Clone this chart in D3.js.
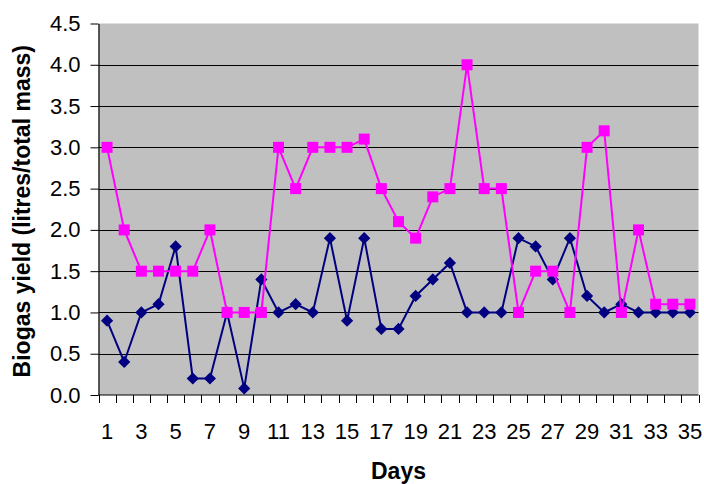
<!DOCTYPE html>
<html>
<head>
<meta charset="utf-8">
<script src="https://cdn.jsdelivr.net/npm/d3@7"></script>
<style>
  html, body { margin: 0; padding: 0; background: #ffffff; }
  svg { display: block; }
  text { font-family: "Liberation Sans", Arial, sans-serif; fill: #000; }
</style>
</head>
<body>
<svg id="chart" width="704" height="484"></svg>
<script>
const days = d3.range(1, 36);
const seriesNavy = [0.9, 0.4, 1.0, 1.1, 1.8, 0.2, 0.2, 1.0, 0.08, 1.4,
                    1.0, 1.1, 1.0, 1.9, 0.9, 1.9, 0.8, 0.8, 1.2, 1.4,
                    1.6, 1.0, 1.0, 1.0, 1.9, 1.8, 1.4, 1.9, 1.2, 1.0,
                    1.1, 1.0, 1.0, 1.0, 1.0];
const seriesPink = [3.0, 2.0, 1.5, 1.5, 1.5, 1.5, 2.0, 1.0, 1.0, 1.0,
                    3.0, 2.5, 3.0, 3.0, 3.0, 3.1, 2.5, 2.1, 1.9, 2.4,
                    2.5, 4.0, 2.5, 2.5, 1.0, 1.5, 1.5, 1.0, 3.0, 3.2,
                    1.0, 2.0, 1.1, 1.1, 1.1];
const yTicks = [0, 0.5, 1.0, 1.5, 2.0, 2.5, 3.0, 3.5, 4.0, 4.5];
const xTickLabels = days.filter(d => d % 2 === 1);
const yTitle = "Biogas yield (litres/total mass)";
const xTitle = "Days";

const svg = d3.select("#chart");
const pLeft = 98.5, pRight = 698.5, pTop = 23.5, pBottom = 395;

const x = d3.scaleBand().domain(days).range([pLeft, pRight]).padding(0);
const y = d3.scaleLinear().domain([0, 4.5]).range([pBottom, pTop]);
const cx = d => x(d) + x.bandwidth() / 2;

// plot background
svg.append("rect")
  .attr("x", pLeft).attr("y", pTop)
  .attr("width", pRight - pLeft).attr("height", pBottom - pTop)
  .attr("fill", "#C0C0C0");

// gridlines
svg.append("g")
  .selectAll("line")
  .data(yTicks.filter(v => v > 0 && v < 4.5))
  .join("line")
  .attr("x1", pLeft).attr("x2", pRight)
  .attr("y1", d => Math.round(y(d)) + 0.5).attr("y2", d => Math.round(y(d)) + 0.5)
  .attr("stroke", "#000").attr("stroke-width", 1);

// y axis
const yAxis = d3.axisLeft(y).tickValues(yTicks).tickFormat(d3.format(".1f"))
  .tickSizeOuter(0).tickSizeInner(8).tickPadding(10);
const gy = svg.append("g").attr("transform", `translate(${pLeft},0)`).call(yAxis);
gy.select(".domain").attr("stroke", "#000").attr("stroke-width", 1.2);
gy.selectAll(".tick line").attr("stroke", "#000");
gy.selectAll(".tick text")
  .attr("font-size", 22)
  .style("font-family", '"Liberation Sans", Arial, sans-serif');

// x axis: ticks at category boundaries
const gx = svg.append("g");
gx.append("line")
  .attr("x1", pLeft).attr("x2", pRight)
  .attr("y1", pBottom).attr("y2", pBottom)
  .attr("stroke", "#000").attr("stroke-width", 1.2);
const boundaries = days.map(d => x(d)).concat([x(days[days.length - 1]) + x.bandwidth()]);
gx.selectAll("line.tk")
  .data(boundaries)
  .join("line").attr("class", "tk")
  .attr("x1", d => Math.round(d) + 0.5).attr("x2", d => Math.round(d) + 0.5)
  .attr("y1", pBottom).attr("y2", pBottom + 8)
  .attr("stroke", "#000");
gx.selectAll("text")
  .data(xTickLabels)
  .join("text")
  .attr("x", d => cx(d))
  .attr("y", 439)
  .attr("text-anchor", "middle")
  .attr("font-size", 22)
  .text(d => d);

// lines & markers
const line = d3.line().x((d, i) => cx(days[i])).y(d => y(d));

svg.append("path").datum(seriesNavy)
  .attr("d", line).attr("fill", "none")
  .attr("stroke", "#000080").attr("stroke-width", 2);
svg.append("g").selectAll("path")
  .data(seriesNavy)
  .join("path")
  .attr("d", d3.symbol().type(d3.symbolDiamond2).size(95))
  .attr("transform", (d, i) => `translate(${cx(days[i])},${y(d)})`)
  .attr("fill", "#000080");

svg.append("path").datum(seriesPink)
  .attr("d", line).attr("fill", "none")
  .attr("stroke", "#FF00FF").attr("stroke-width", 2);
svg.append("g").selectAll("rect")
  .data(seriesPink)
  .join("rect")
  .attr("x", (d, i) => cx(days[i]) - 5.5)
  .attr("y", d => y(d) - 5.5)
  .attr("width", 11).attr("height", 11)
  .attr("fill", "#FF00FF");

// titles
svg.append("text")
  .attr("transform", `translate(30,${(pTop + pBottom) / 2 + 2}) rotate(-90)`)
  .attr("text-anchor", "middle")
  .attr("font-size", 23)
  .attr("font-weight", "bold")
  .text(yTitle);

svg.append("text")
  .attr("x", (pLeft + pRight) / 2)
  .attr("y", 479)
  .attr("text-anchor", "middle")
  .attr("font-size", 23)
  .attr("font-weight", "bold")
  .text(xTitle);
</script>
</body>
</html>
